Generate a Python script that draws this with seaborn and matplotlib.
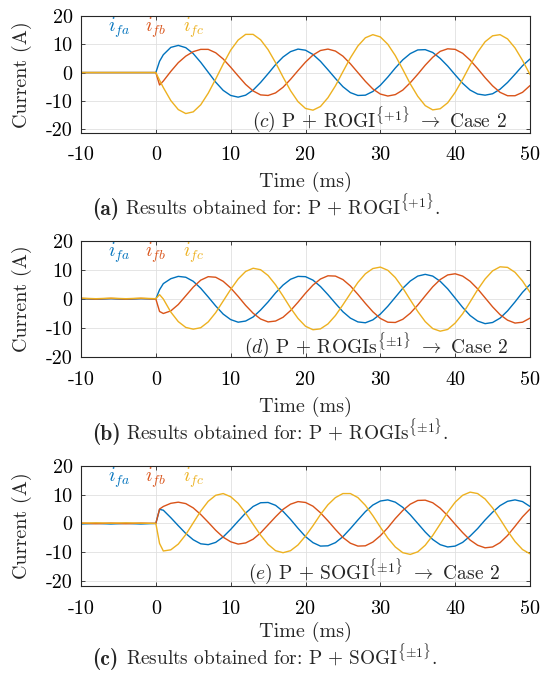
import matplotlib
matplotlib.use("Agg")
import matplotlib.pyplot as plt
import seaborn as sns
import pandas as pd

# ── figure geometry (pixels) ─────────────────────────────────────────────────
W, H, DPI = 542, 676, 100

# ── data (current in A, time in ms) ─────────────────────────────────────────
TIME_MS = [-10, -8, -6, -4, -2, 0, 0.5] + list(range(1, 51))

# (a) P + ROGI{+1}
ROGI_IA = [0, 0, 0, 0, 0, 0, 4.0,
           6.3, 8.9, 9.6, 8.8, 6.7, 3.6, 0.1, -3.4, -6.3, -8.1,
           -8.7, -8.0, -6.2, -3.5, -0.4, 2.8, 5.5, 7.4, 8.3, 7.9,
           6.4, 4.0, 1.0, -2.1, -5.0, -7.1, -8.1, -8.0, -6.7, -4.5,
           -1.6, 1.6, 4.5, 6.7, 8.0, 8.1, 7.1, 5.0, 2.3, -0.8,
           -3.8, -6.2, -7.6, -8.0, -7.5, -5.9, -3.5, -0.6, 2.4, 4.8]
ROGI_IB = [0, 0, 0, 0, 0, 0, -4.4,
           -3.0, 0.4, 3.5, 5.8, 7.4, 8.2, 8.2, 7.0, 4.8, 1.9,
           -1.2, -4.2, -6.5, -7.9, -8.1, -7.2, -5.2, -2.4, 0.7, 3.7,
           6.2, 7.8, 8.3, 7.6, 5.8, 3.1, 0.0, -3.1, -5.8, -7.6,
           -8.3, -7.8, -6.2, -3.6, -0.6, 2.6, 5.4, 7.5, 8.4, 8.2,
           6.8, 4.4, 1.4, -1.8, -4.7, -7.0, -8.2, -8.2, -7.0, -4.6]
ROGI_IC = [0, 0, 0, 0, 0, 0, -2.7,
           -5.3, -9.9, -13.1, -14.5, -13.9, -11.4, -7.3, -2.3, 3.0, 7.9,
           11.5, 13.5, 13.5, 11.6, 8.1, 3.5, -1.6, -6.4, -10.3, -12.7,
           -13.3, -12.0, -8.9, -4.7, 0.3, 5.2, 9.4, 12.3, 13.4, 12.6,
           10.0, 6.0, 1.1, -4.0, -8.4, -11.7, -13.2, -12.8, -10.7, -7.0,
           -2.4, 2.6, 7.2, 10.9, 13.0, 13.4, 11.9, 8.7, 4.3, -0.7]

# (b) P + ROGIs{±1}
ROGIS_IA = [0.1, -0.1, 0.1, -0.1, 0.1, 0.0, 3.2,
            5.3, 7.0, 7.8, 7.5, 6.1, 3.7, 0.7, -2.4, -5.2, -7.1,
            -8.0, -7.6, -6.2, -3.8, -1.0, 2.1, 4.8, 6.8, 7.8, 7.7,
            6.5, 4.3, 1.5, -1.5, -4.4, -6.6, -7.9, -8.2, -7.2, -5.2,
            -2.5, 0.6, 3.7, 6.2, 7.9, 8.5, 7.9, 6.1, 3.5, 0.3,
            -2.9, -5.7, -7.6, -8.5, -8.1, -6.6, -4.1, -1.0, 2.3, 5.0]
ROGIS_IB = [0.2, 0.0, 0.2, 0.0, 0.2, 0.0, -4.3,
            -5.0, -4.1, -1.9, 1.1, 4.1, 6.5, 7.7, 7.5, 6.1, 3.8,
            0.9, -2.2, -4.9, -6.9, -7.9, -7.6, -6.3, -4.0, -1.1, 2.0,
            4.8, 6.9, 8.0, 7.9, 6.7, 4.5, 1.6, -1.5, -4.4, -6.7,
            -8.0, -8.1, -7.0, -4.9, -2.1, 1.1, 4.2, 6.7, 8.3, 8.7,
            7.9, 6.1, 3.5, 0.4, -2.7, -5.4, -7.3, -8.3, -8.0, -6.6]
ROGIS_IC = [0.3, 0.1, 0.3, 0.1, 0.3, 0.1, 1.5,
            0.0, -4.5, -7.8, -9.8, -10.4, -9.9, -7.9, -4.7, -0.7, 3.3,
            6.9, 9.5, 10.6, 10.1, 8.1, 4.9, 1.0, -3.1, -6.7, -9.4,
            -10.6, -10.3, -8.6, -5.7, -2.0, 1.9, 5.7, 8.7, 10.5, 11.0,
            9.9, 7.4, 3.8, -0.3, -4.3, -7.8, -10.2, -11.1, -10.5, -8.3,
            -5.1, -1.0, 3.2, 6.9, 9.7, 11.1, 10.9, 9.2, 6.2, 2.3]

# (c) P + SOGI{±1}
SOGI_IA = [-0.2, 0.0, -0.2, 0.0, -0.2, 0.0, 4.9,
           4.6, 2.0, -0.8, -3.5, -5.7, -7.1, -7.4, -6.6, -4.7, -2.1,
           0.8, 3.6, 5.9, 7.2, 7.3, 6.3, 4.2, 1.4, -1.7, -4.6,
           -6.7, -7.9, -7.8, -6.7, -4.6, -1.8, 1.2, 4.1, 6.4, 7.8,
           8.2, 7.4, 5.6, 3.0, 0.0, -3.0, -5.6, -7.4, -8.2, -7.9,
           -6.6, -4.4, -1.8, 1.2, 3.9, 6.2, 7.7, 8.2, 7.6, 5.9]
SOGI_IB = [0.1, -0.1, 0.1, -0.1, 0.1, 0.0, 5.0,
           5.9, 7.0, 7.4, 6.9, 5.4, 3.1, 0.4, -2.4, -4.8, -6.4,
           -7.2, -6.8, -5.5, -3.3, -0.5, 2.3, 4.9, 6.7, 7.6, 7.3,
           6.0, 3.7, 0.9, -2.1, -4.9, -6.9, -7.9, -7.8, -6.5, -4.3,
           -1.5, 1.7, 4.5, 6.7, 8.0, 8.1, 7.2, 5.3, 2.7, -0.3,
           -3.2, -5.8, -7.6, -8.5, -8.2, -6.7, -4.2, -1.0, 2.3, 5.0]
SOGI_IC = [0.1, 0.2, 0.1, 0.2, 0.1, 0.0, -7.0,
           -9.6, -9.2, -7.2, -3.9, 0.2, 4.3, 7.7, 9.8, 10.4, 9.3,
           7.0, 3.6, -0.3, -4.1, -7.3, -9.5, -10.2, -9.5, -7.5, -4.4,
           -0.8, 3.1, 6.5, 9.0, 10.4, 10.4, 9.0, 6.3, 2.7, -1.3,
           -5.1, -8.2, -10.2, -10.8, -9.9, -7.6, -4.2, -0.2, 3.9, 7.4,
           9.8, 10.9, 10.4, 8.5, 5.4, 1.5, -2.6, -6.3, -9.1, -10.6]

PHASES = ["ifa", "ifb", "ifc"]
PHASE_LABELS = [r"$i_{fa}$", r"$i_{fb}$", r"$i_{fc}$"]
PHASE_COLORS = ["#0072BD", "#D95319", "#EDB120"]

X_TICKS = [-10, 0, 10, 20, 30, 40, 50]
Y_TICKS = [-20, -10, 0, 10, 20]

PANEL_SERIES = [(ROGI_IA, ROGI_IB, ROGI_IC),
                (ROGIS_IA, ROGIS_IB, ROGIS_IC),
                (SOGI_IA, SOGI_IB, SOGI_IC)]
PANEL_TAGS = [r"$(c)$ P + ROGI$^{\{+1\}}$ $\rightarrow$ Case 2",
              r"$(d)$ P + ROGIs$^{\{\pm1\}}$ $\rightarrow$ Case 2",
              r"$(e)$ P + SOGI$^{\{\pm1\}}$ $\rightarrow$ Case 2"]
CAPTION_LETTERS = ["(a)", "(b)", "(c)"]
CAPTIONS = [r"Results obtained for: P + ROGI$^{\{+1\}}$.",
            r"Results obtained for: P + ROGIs$^{\{\pm1\}}$.",
            r"Results obtained for: P + SOGI$^{\{\pm1\}}$."]

# ── layout (pixels: left, top, right, bottom) ────────────────────────────────
AX_BOXES = [(81, 16, 530, 132.5), (81, 241, 530, 357), (81, 466, 530, 586)]
Y_LIMITS = [(-21.2, 20), (-20, 20), (-21.8, 20)]
XLABEL_Y = [182, 407, 632]
CAPTION_Y = [215, 440, 665]
CAPTION_TEXT_X = [125, 126, 126]
TAG_POS = [(507, 128), (508, 354), (500, 580)]
LEGEND_X = [108, 145, 183]

sns.set_theme(style="ticks")
plt.rcParams.update({
    "font.family": ["cmr10", "DejaVu Serif"],
    "mathtext.fontset": "cm",
    "axes.unicode_minus": False,
    "axes.formatter.use_mathtext": False,
    "axes.edgecolor": "#262626",
    "axes.linewidth": 0.8,
    "grid.color": "#e0e0e0",
    "grid.linewidth": 0.6,
})


def fxy(x, y):
    return x / W, 1 - y / H


fig = plt.figure(figsize=(W / DPI, H / DPI), dpi=DPI)

for i, (series, box, ylim) in enumerate(zip(PANEL_SERIES, AX_BOXES, Y_LIMITS)):
    left, top, right, bottom = box
    ax = fig.add_axes([left / W, 1 - bottom / H, (right - left) / W, (bottom - top) / H])

    df = pd.DataFrame({
        "time": TIME_MS * 3,
        "current": [v for s in series for v in s],
        "phase": [p for p in PHASES for _ in TIME_MS],
    })
    sns.lineplot(data=df, x="time", y="current", hue="phase",
                 hue_order=PHASES, palette=PHASE_COLORS,
                 estimator=None, sort=False, linewidth=1.0,
                 legend=False, ax=ax)

    ax.set_xlim(-10, 50)
    ax.set_ylim(*ylim)
    ax.set_xticks(X_TICKS)
    ax.set_yticks(Y_TICKS)
    ax.set_xticklabels([str(t) for t in X_TICKS])
    ax.set_yticklabels([str(t) for t in Y_TICKS])
    ax.grid(True)
    ax.set_axisbelow(True)
    for sp in ax.spines.values():
        sp.set_visible(True)
    ax.tick_params(direction="in", top=True, right=True, length=3,
                   width=0.6, labelsize=14.5, colors="#262626",
                   labelcolor="black")
    ax.tick_params(axis="x", pad=10)
    ax.tick_params(axis="y", pad=6)
    ax.set_xlabel("")
    ax.set_ylabel("")

    # axis labels
    fig.text(*fxy(22, (top + bottom) / 2), "Current (A)", rotation=90,
             ha="center", va="center", fontsize=14.5)
    fig.text(*fxy((left + right) / 2, XLABEL_Y[i]), "Time (ms)",
             ha="center", va="center", fontsize=14.5)

    # coloured phase labels (legend without handles)
    for lx, lab, col in zip(LEGEND_X, PHASE_LABELS, PHASE_COLORS):
        fig.text(*fxy(lx, top + 15.5), lab, color=col, fontsize=14,
                 ha="left", va="baseline")

    # case tag
    fig.text(*fxy(*TAG_POS[i]), PANEL_TAGS[i], ha="right", va="baseline",
             fontsize=14)

    # sub-caption
    fig.text(*fxy(92, CAPTION_Y[i]), CAPTION_LETTERS[i], ha="left",
             va="baseline", fontsize=15.5, family="cmb10")
    fig.text(*fxy(CAPTION_TEXT_X[i], CAPTION_Y[i]), CAPTIONS[i], ha="left",
             va="baseline", fontsize=13.9)

fig.savefig("out.png", dpi=DPI)
